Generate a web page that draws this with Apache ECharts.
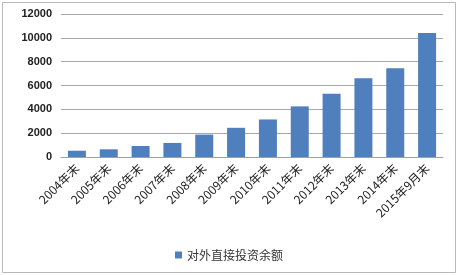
<!DOCTYPE html>
<html>
<head>
<meta charset="utf-8">
<script src="https://cdn.jsdelivr.net/npm/echarts@6/dist/echarts.min.js"></script>
<style>
  html, body { margin: 0; padding: 0; background: #fff; }
  #chart { width: 458px; height: 275px; }
</style>
</head>
<body>
<div id="chart"></div>
<script>
// Outward FDI stock by year-end
const categories = ['2004年末', '2005年末', '2006年末', '2007年末', '2008年末', '2009年末',
  '2010年末', '2011年末', '2012年末', '2013年末', '2014年末', '2015年9月末'];
const stockValues = [527, 645, 925, 1180, 1880, 2450, 3150, 4248, 5310, 6605, 7450, 10400];
const seriesName = '对外直接投资余额';
const yTicks = { min: 0, max: 12000, interval: 2000 };

const chart = echarts.init(document.getElementById('chart'), null, { renderer: 'canvas' });
const font = '"Noto Sans CJK SC", "Liberation Sans", sans-serif';

chart.setOption({
  animation: false,
  backgroundColor: '#fff',
  graphic: [{
    type: 'rect',
    shape: { x: 2.5, y: 2.5, width: 453, height: 270 },
    style: { fill: 'none', stroke: '#b8b8b8', lineWidth: 1 }
  }],
  grid: { left: 61, right: 15, top: 14, bottom: 118, containLabel: false },
  legend: {
    bottom: 9,
    left: 'center',
    itemWidth: 7,
    itemHeight: 7,
    icon: 'rect',
    textStyle: { fontFamily: font, fontSize: 12, color: '#333' },
    data: [seriesName]
  },
  xAxis: {
    type: 'category',
    data: categories,
    axisLine: { lineStyle: { color: '#a0a0a0' } },
    axisTick: { show: false },
    axisLabel: {
      rotate: 45,
      interval: 0,
      margin: 9,
      fontFamily: font,
      fontSize: 12,
      color: '#222'
    }
  },
  yAxis: {
    type: 'value',
    min: yTicks.min,
    max: yTicks.max,
    interval: yTicks.interval,
    axisLine: { show: false },
    axisTick: { show: false },
    splitLine: { lineStyle: { color: '#a8a8a8', width: 1 } },
    axisLabel: {
      margin: 9,
      formatter: v => String(v),
      fontFamily: '"Liberation Sans", sans-serif',
      fontWeight: 'bold',
      fontSize: 11,
      color: '#222'
    }
  },
  series: [{
    name: seriesName,
    type: 'bar',
    data: stockValues,
    barWidth: 18,
    itemStyle: { color: '#4f7fbd' }
  }]
});
</script>
</body>
</html>
